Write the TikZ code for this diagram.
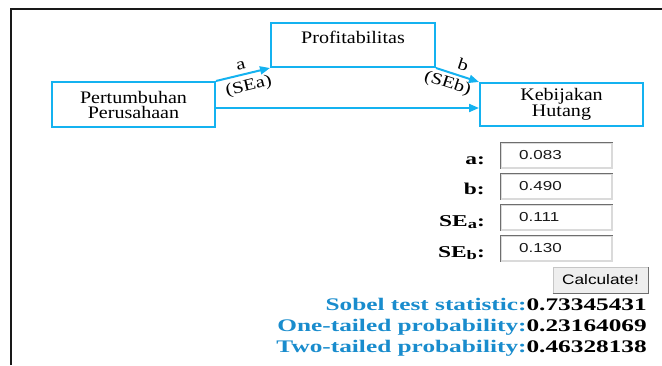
\documentclass[tikz,border=0pt]{standalone}
\usepackage{fontspec}
\setmainfont{Liberation Serif}
\newfontfamily\boxfont[FakeStretch=1.14]{Liberation Serif}
\newfontfamily\edgefont[FakeStretch=1.25]{Liberation Serif}
\newfontfamily\formfont[FakeStretch=1.42]{Liberation Serif}
\newfontfamily\resfont[FakeStretch=1.43]{Liberation Serif}
\newfontfamily\valfont[FakeStretch=1.31]{Liberation Sans}
\newfontfamily\btnfont[FakeStretch=1.25]{Liberation Sans}
\usetikzlibrary{arrows.meta}
\definecolor{boxblue}{RGB}{20,178,240}
\definecolor{resblue}{RGB}{25,140,205}
\definecolor{fieldDark}{RGB}{110,110,110}
\definecolor{fieldLight}{RGB}{218,218,218}
\definecolor{btnFill}{RGB}{238,238,238}
\begin{document}
\begin{tikzpicture}[x=1pt,y=-1pt,
  varbox/.style={draw=boxblue, line width=2pt, inner sep=0pt, minimum width=163pt, minimum height=44pt, align=center, font=\boxfont\fontsize{17.6pt}{15pt}\selectfont},
  link/.style={draw=boxblue, line width=2pt, -{Triangle[length=10pt,width=8pt]}},
  elabel/.style={font=\edgefont\fontsize{16.5pt}{16pt}\selectfont, inner sep=0pt, sloped},
  field/.style={draw=fieldLight, line width=1.5pt, fill=white, minimum width=111pt, minimum height=25pt, inner sep=0pt},
  fieldedge/.style={draw=fieldDark, line width=1.5pt},
  formlabel/.style={font=\formfont\bfseries\fontsize{16.5pt}{18pt}\selectfont, anchor=base east, inner sep=0pt},
  value/.style={font=\valfont\fontsize{13pt}{15pt}\selectfont, anchor=base west, inner sep=0pt, text=black!90},
  result/.style={font=\resfont\bfseries\fontsize{17.7pt}{20pt}\selectfont, anchor=base east, inner sep=0pt},
  button/.style={draw=gray!45, fill=btnFill, line width=1pt, minimum width=95pt, minimum height=26pt, inner sep=0pt, font=\btnfont\fontsize{13.8pt}{15pt}\selectfont}
]
\useasboundingbox (0,0) rectangle (662,365);
% frame
\draw[line width=2pt, black!90] (10.5,365) -- (10.5,8.5) -- (662,8.5);

% variables
\node[varbox, minimum height=45pt] (P) at (133.5,104.5) {Pertumbuhan\\Perusahaan};
\node[varbox, minimum width=164pt, text height=12pt, text depth=15.4pt] (M) at (353,45) {Profitabilitas};
\node[varbox, minimum height=43pt] (K) at (561.5,104.5) {Kebijakan\\Hutang};

\draw[link] (P.north east) -- node[elabel, above=4pt]{a} node[elabel, below=4.5pt, pos=0.55]{(SEa)} (M.south west);
\draw[link] (M.south east) -- node[elabel, above=4.5pt, pos=0.55]{b} node[elabel, below=3pt, pos=0.35]{(SEb)} (K.north west);
\draw[link] ([yshift=-3.5pt]P.east) -- ([yshift=-3.5pt]K.west);

% form fields
\node[field] (fa) at (556.5,155.5) {};
\node[field] (fb) at (556.5,186.5) {};
\node[field] (fsa) at (556.5,217.5) {};
\node[field] (fsb) at (556.5,248.5) {};
\draw[fieldedge] (fa.south west) -- (fa.north west) -- (fa.north east);
\draw[fieldedge] (fb.south west) -- (fb.north west) -- (fb.north east);
\draw[fieldedge] (fsa.south west) -- (fsa.north west) -- (fsa.north east);
\draw[fieldedge] (fsb.south west) -- (fsb.north west) -- (fsb.north east);

\node[formlabel] (la) at (485,164.3) {a:};
\node[formlabel] (lb) at (485,194.3) {b:};
\node[formlabel] (lsa) at (485,226) {SE{\fontsize{13pt}{13pt}\selectfont\raisebox{-2.5pt}{a}}:};
\node[formlabel] (lsb) at (485,257) {SE{\fontsize{13pt}{13pt}\selectfont\raisebox{-2.5pt}{b}}:};

\node[value] (va) at (519,159) {0.083};
\node[value] (vb) at (519,190) {0.490};
\node[value] (vsa) at (519,221) {0.111};
\node[value] (vsb) at (519,252) {0.130};

% button
\node[button] (calc) at (600.5,280) {Calculate!};
\draw[line width=1.5pt, fieldDark] (calc.south west) -- (calc.south east) -- (calc.north east);

% results
\node[result] (r1) at (647,310) {\textcolor{resblue}{Sobel test statistic:}0.73345431};
\node[result] (r2) at (647,331) {\textcolor{resblue}{One-tailed probability:}0.23164069};
\node[result] (r3) at (647,352) {\textcolor{resblue}{Two-tailed probability:}0.46328138};
\end{tikzpicture}
\end{document}
